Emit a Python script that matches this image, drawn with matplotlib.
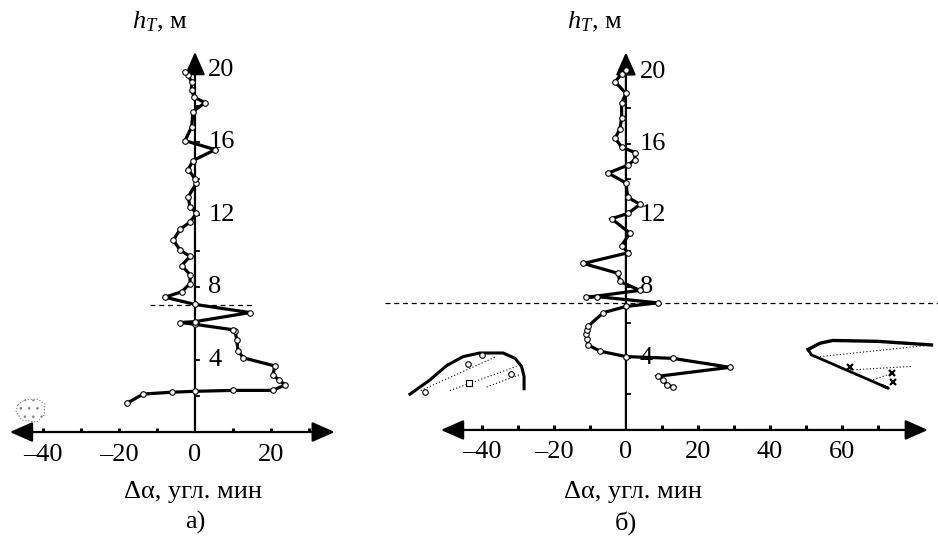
import numpy as np
import matplotlib
matplotlib.use('Agg')
import matplotlib.pyplot as plt

plt.rcParams['font.family'] = ['Liberation Serif', 'DejaVu Serif']
plt.rcParams['mathtext.fontset'] = 'custom'
plt.rcParams['mathtext.rm'] = 'Liberation Serif'
plt.rcParams['mathtext.it'] = 'Liberation Serif:italic'
plt.rcParams['hatch.color'] = '0.45'
plt.rcParams['hatch.linewidth'] = 0.6

# panel a) -- profile of the deviation vs height
a_da = [-18, -13.6, -6, 0, 10, 20.5, 23.7, 22.0, 20.5, 21.0, 12.7, 11.3, 11.0, 10.5,
        10.0, 0, -3.9, 0, 14.5, 0, -7.9, -3.5, -1.3, -1.3, -3.5, -1.3, -3.9, -5.7,
        -3.9, -1.3, 0.4, -1.3, -1.8, 0.4, 0, -1.8, -0.5, 5.3, -2.6, -0.9, -0.5, 2.6,
        -0.2, -0.9, -0.9, -1.8, -2.6]
a_h = [1.58, 2.1, 2.2, 2.25, 2.3, 2.3, 2.6, 2.9, 3.15, 3.65, 4.1, 4.5, 5.1, 5.6,
       5.65, 5.95, 6.05, 6.1, 6.6, 7.05, 7.45, 7.75, 8.2, 8.7, 9.2, 9.7, 10.05, 10.6,
       11.2, 11.6, 12.1, 12.45, 13.0, 13.75, 14.0, 14.5, 15.0, 15.6, 16.1, 16.85, 17.7, 18.2,
       18.5, 18.9, 19.35, 19.7, 19.9]

# panel б)
b_da = [13.1, 11.3, 10.4, 9.0, 28.9, 13.0, 0, -7.2, -10.5, -10.9, -11.0, -10.9, -10.5,
        -6.3, 0, 8.9, -8.1, -11.2, 3.9, -1.7, -2.2, -11.8, 0.6, -1.2, 1.1, -4.0, 0.6,
        3.9, 0.5, 0, -4.9, 0.6, 2.5, 2.5, -1.2, -3.0, -1.7, -1.2, -1.2, 0, -3.0, -1.2, 0]
b_h = [2.42, 2.5, 2.8, 3.0, 3.5, 4.0, 4.1, 4.4, 4.75, 5.1, 5.35, 5.6, 5.8,
       6.55, 6.9, 7.1, 7.45, 7.4, 7.8, 8.3, 8.75, 9.3, 9.9, 10.3, 11.0, 11.8, 12.1,
       12.6, 13.0, 13.8, 14.35, 14.8, 15.1, 15.5, 15.8, 16.3, 16.8, 17.4, 18.25, 18.8, 19.45, 19.9, 20.1]

h_boundary = 7.0

# small sketches drawn inside panel б
left_shape_da = [-60, -54.4, -49.8, -45.2, -40.6, -34.1, -30.8, -29.0, -28.3, -28.3]
left_shape_h = [2.0, 2.8, 3.6, 4.1, 4.3, 4.3, 4.0, 3.55, 3.0, 2.3]
left_hatch = [([-57, -36], [2.2, 4.1]), ([-48.9, -30.4], [2.2, 3.55]), ([-38.7, -29.4], [2.4, 3.1])]
left_circ_da = [-55.8, -44.0, -32.0, -40.0]
left_circ_h = [2.1, 3.7, 3.1, 4.2]
left_sq_da = [-43.6]
left_sq_h = [2.65]

right_top_da = [50.6, 54.0, 57.5, 70.0, 84.9]
right_top_h = [4.5, 4.85, 5.0, 4.95, 4.75]
right_bot_da = [50.6, 51.5, 72.9, 71.5]
right_bot_h = [4.5, 4.2, 2.33, 2.45]
right_hatch = [([53.9, 84.9], [4.1, 4.75]), ([62.2, 79.4], [3.35, 3.55]), ([68.7, 74.3], [2.8, 3.2])]
right_star_da = [62.2, 74.0, 74.3]
right_star_h = [3.5, 3.2, 2.7]

blob_da = [-46.6, -44.7, -41.3, -39.5, -39.7, -41.6, -45.5, -47.1]
blob_h = [1.5, 1.8, 1.8, 1.55, 0.94, 0.55, 0.66, 1.1]

fig = plt.figure(figsize=(9.38, 5.37), dpi=100)
axa = fig.add_axes([0, 0, 370 / 938, 1])
axb = fig.add_axes([370 / 938, 0, 568 / 938, 1])
axa.set_xlim(-51.3, 46.05)
axa.set_ylim(-5.80, 23.87)
axb.set_xlim(-71.1, 86.7)
axb.set_ylim(-5.98, 24.02)

arrow = dict(color='k', lw=1.6, mutation_scale=28, shrinkA=0, shrinkB=0)


def draw_axes(ax, xmin, xmax, xticks, xlabels, ytop, tickh, tickw):
    ax.axis('off')
    ax.annotate('', xy=(xmin, 0), xytext=(xmax, 0),
                arrowprops=dict(arrowstyle='<|-|>,head_length=0.5,head_width=0.22', **arrow))
    ax.annotate('', xy=(0, ytop), xytext=(0, 0),
                arrowprops=dict(arrowstyle='-|>,head_length=0.5,head_width=0.22', **arrow))
    for t in xticks:
        if t != 0:
            ax.plot([t, t], [0, tickh], color='k', lw=2.2, solid_capstyle='butt')
    for y in range(2, 21, 2):
        ax.plot([0, tickw], [y, y], color='k', lw=1.3)
    for t in xlabels:
        s = str(t).replace('-', '–')
        ax.text(t, -1.25, s, ha='center', va='center', fontsize=19)
    for y in [4, 8, 12, 16, 20]:
        ax.text(tickw * 3.2, y, str(y), ha='left', va='center', fontsize=19)


draw_axes(axa, -48.7, 36.8, range(-40, 31, 10), [-40, -20, 0, 20], 21.0, 0.25, 1.1)
draw_axes(axb, -51.4, 83.9, range(-40, 71, 10), [-40, -20, 0, 20, 40, 60], 21.1, 0.25, 1.2)

# dashed boundary lines
axa.plot([-11.8, 15.8], [h_boundary, h_boundary], color='k', lw=0.9, ls=(0, (4, 3)))
axb.plot([-66.9, 86.7], [h_boundary + 0.1, h_boundary + 0.1], color='k', lw=0.9, ls=(0, (4, 3)))

# profiles
for ax, da, h in [(axa, a_da, a_h), (axb, b_da, b_h)]:
    ax.plot(da, h, color='k', lw=2.3, solid_joinstyle='miter', zorder=3)
    ax.plot(da, h, ls='none', marker='o', ms=4, mfc='white', mec='k', mew=0.8, zorder=4)

# inset sketches in panel б
axb.plot(left_shape_da, left_shape_h, color='k', lw=2.2)
for xs, ys in left_hatch:
    axb.plot(xs, ys, color='k', lw=0.8, ls=(0, (1, 2)))
axb.plot(left_circ_da, left_circ_h, ls='none', marker='o', ms=4, mfc='white', mec='k', mew=0.8)
axb.plot(left_sq_da, left_sq_h, ls='none', marker='s', ms=4, mfc='white', mec='k', mew=0.8)

axb.plot(right_top_da, right_top_h, color='k', lw=2.4)
axb.plot(right_bot_da, right_bot_h, color='k', lw=2.0)
for xs, ys in right_hatch:
    axb.plot(xs, ys, color='k', lw=0.8, ls=(0, (1, 2)))
axb.plot(right_star_da, right_star_h, ls='none', marker='x', ms=5, mec='k', mew=1.6)

# hatched blob in panel a
axa.fill(blob_da, blob_h, facecolor='white', edgecolor='0.5', hatch='..', lw=0.8, ls=':')

# labels
axa.text(-9.2, 22.65, r'$h_T$, м', ha='center', va='center', fontsize=19)
axb.text(-8.6, 22.8, r'$h_T$, м', ha='center', va='center', fontsize=19)
axa.text(-0.5, -3.3, 'Δα, угл. мин', ha='center', va='center', fontsize=19)
axb.text(1.9, -3.45, 'Δα, угл. мин', ha='center', va='center', fontsize=19)
axa.text(0, -5.0, 'а)', ha='center', va='center', fontsize=19)
axb.text(0, -5.2, 'б)', ha='center', va='center', fontsize=19)

fig.savefig('out.png', dpi=100)
